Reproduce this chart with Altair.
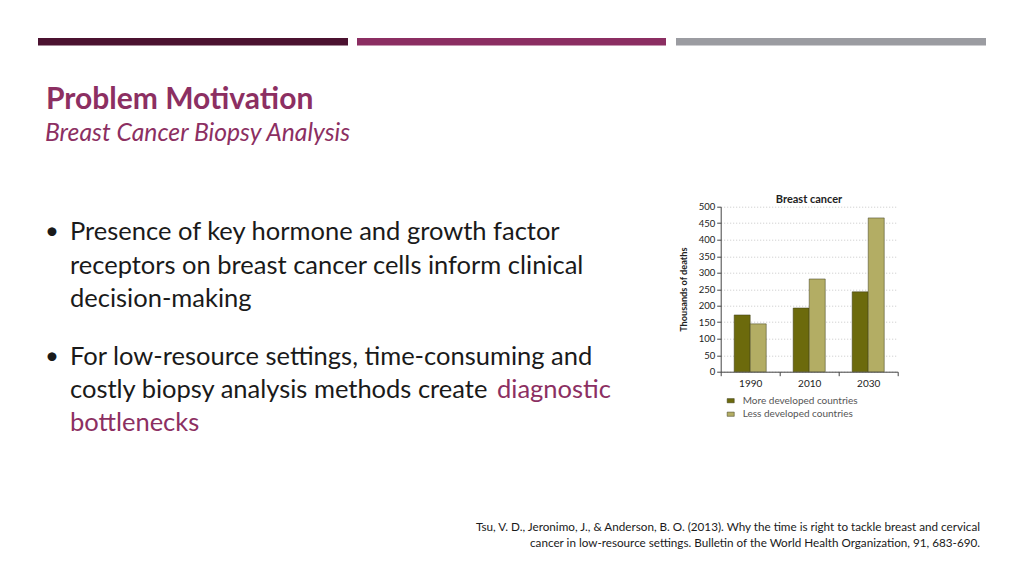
import altair as alt
import pandas as pd

# ---- data ----
years = ["1990", "2010", "2030"]
more_developed = [172, 193, 242]
less_developed = [145, 281, 466]
series_names = ["More developed countries", "Less developed countries"]
y_ticks = [0, 50, 100, 150, 200, 250, 300, 350, 400, 450, 500]

rows = []
for i, yr in enumerate(years):
    rows.append({"year": yr, "group": series_names[0], "deaths": more_developed[i]})
    rows.append({"year": yr, "group": series_names[1], "deaths": less_developed[i]})
df = pd.DataFrame(rows)

# ---- layout (absolute page coords of plot origin) ----
OX, OY = 720.7, 206.7
W, H = 177, 165
PAD_L = OX - 8
PAD_T = OY - 8
PAD_R = 1008 - PAD_L - W
PAD_B = 560 - PAD_T - H

CHART_FONT = "Lato, sans-serif"
SLIDE_FONT = "Lato, sans-serif"
PURPLE = "#8c2f62"
BODY = 25.5

bars = alt.Chart(df).mark_bar(stroke="#3a3a1a", strokeWidth=0.5).encode(
    x=alt.X("year:N", sort=years,
            scale=alt.Scale(paddingInner=0, paddingOuter=0),
            axis=alt.Axis(title=None, tickBand="extent", labelAngle=0,
                          labelFont=CHART_FONT, labelFontSize=10, labelColor="#222",
                          domainColor="#444", tickColor="#444", tickSize=4,
                          labelPadding=3)),
    xOffset=alt.XOffset("group:N", sort=series_names,
                        scale=alt.Scale(paddingOuter=0.84, paddingInner=0)),
    y=alt.Y("deaths:Q", scale=alt.Scale(domain=[0, 500], nice=False),
            axis=alt.Axis(title="Thousands of deaths", values=y_ticks,
                          titleFont=CHART_FONT, titleFontSize=9.2, titleFontWeight="bold",
                          titleColor="#222", titlePadding=10,
                          labelFont=CHART_FONT, labelFontSize=9.5, labelColor="#222",
                          domainColor="#444", tickColor="#444", tickSize=4,
                          gridColor="#bbbbbb", gridDash=[1, 2], gridWidth=0.8)),
    color=alt.Color("group:N", sort=series_names,
                    scale=alt.Scale(domain=series_names, range=["#6c6a0c", "#b3ad64"]),
                    legend=alt.Legend(title=None, orient="none", legendX=5, legendY=189,
                                      labelFont=CHART_FONT, labelFontSize=10, labelColor="#555",
                                      symbolType="M-1,-0.6L1,-0.6L1,0.6L-1,0.6Z",
                                      symbolSize=50, symbolStrokeColor="#3a3a1a",
                                      symbolStrokeWidth=0.5, rowPadding=3.5, labelOffset=7)),
)

one = alt.Data(values=[{}])

def rect(x1, x2, y1, y2, color):
    return alt.Chart(one).mark_rect(color=color).encode(
        x=alt.value(x1 - OX), x2=alt.value(x2 - OX),
        y=alt.value(y1 - OY), y2=alt.value(y2 - OY))

def txt(s, x, y, size, color="#1a1a1a", weight="normal", style="normal", align="left", font=SLIDE_FONT):
    return alt.Chart(one).mark_text(text=s, align=align, baseline="middle", fontSize=size,
                                    font=font, color=color, fontWeight=weight,
                                    fontStyle=style).encode(
        x=alt.value(x - OX), y=alt.value(y - OY))

decor = [
    rect(38, 348, 38, 45.5, "#4b1230"),
    rect(357, 666, 38, 45.5, "#8b2e62"),
    rect(676, 986, 38, 45.5, "#9b9ca1"),
    txt("Problem Motivation", 46, 100, 30, color=PURPLE, weight="bold"),
    txt("Breast Cancer Biopsy Analysis", 45, 134, 24.7, color=PURPLE, style="italic"),
    txt("•", 45, 232, 24),
    txt("Presence of key hormone and growth factor", 70, 232, BODY),
    txt("receptors on breast cancer cells inform clinical", 70, 266, BODY),
    txt("decision-making", 70, 299, BODY),
    txt("•", 45, 357, 24),
    txt("For low-resource settings, time-consuming and", 70, 357, BODY),
    txt("costly biopsy analysis methods create", 70, 390, BODY),
    txt("diagnostic", 497, 390, BODY, color=PURPLE),
    txt("bottlenecks", 70, 423, BODY, color=PURPLE),
    txt("Tsu, V. D., Jeronimo, J., & Anderson, B. O. (2013). Why the time is right to tackle breast and cervical",
        980, 527, 11.7, align="right"),
    txt("cancer in low-resource settings. Bulletin of the World Health Organization, 91, 683-690.",
        980, 543, 11.7, align="right"),
    txt("Breast cancer", 809, 200, 11, color="#222", weight="bold", align="center", font=CHART_FONT),
]

chart = alt.layer(bars, *decor).properties(
    width=W, height=H,
    padding={"left": PAD_L, "top": PAD_T, "right": PAD_R, "bottom": PAD_B},
    autosize=alt.AutoSizeParams(type="none"),
    background="white",
).configure_view(stroke=None)

chart.save("out.html", embed_options={"renderer": "svg", "actions": False})
